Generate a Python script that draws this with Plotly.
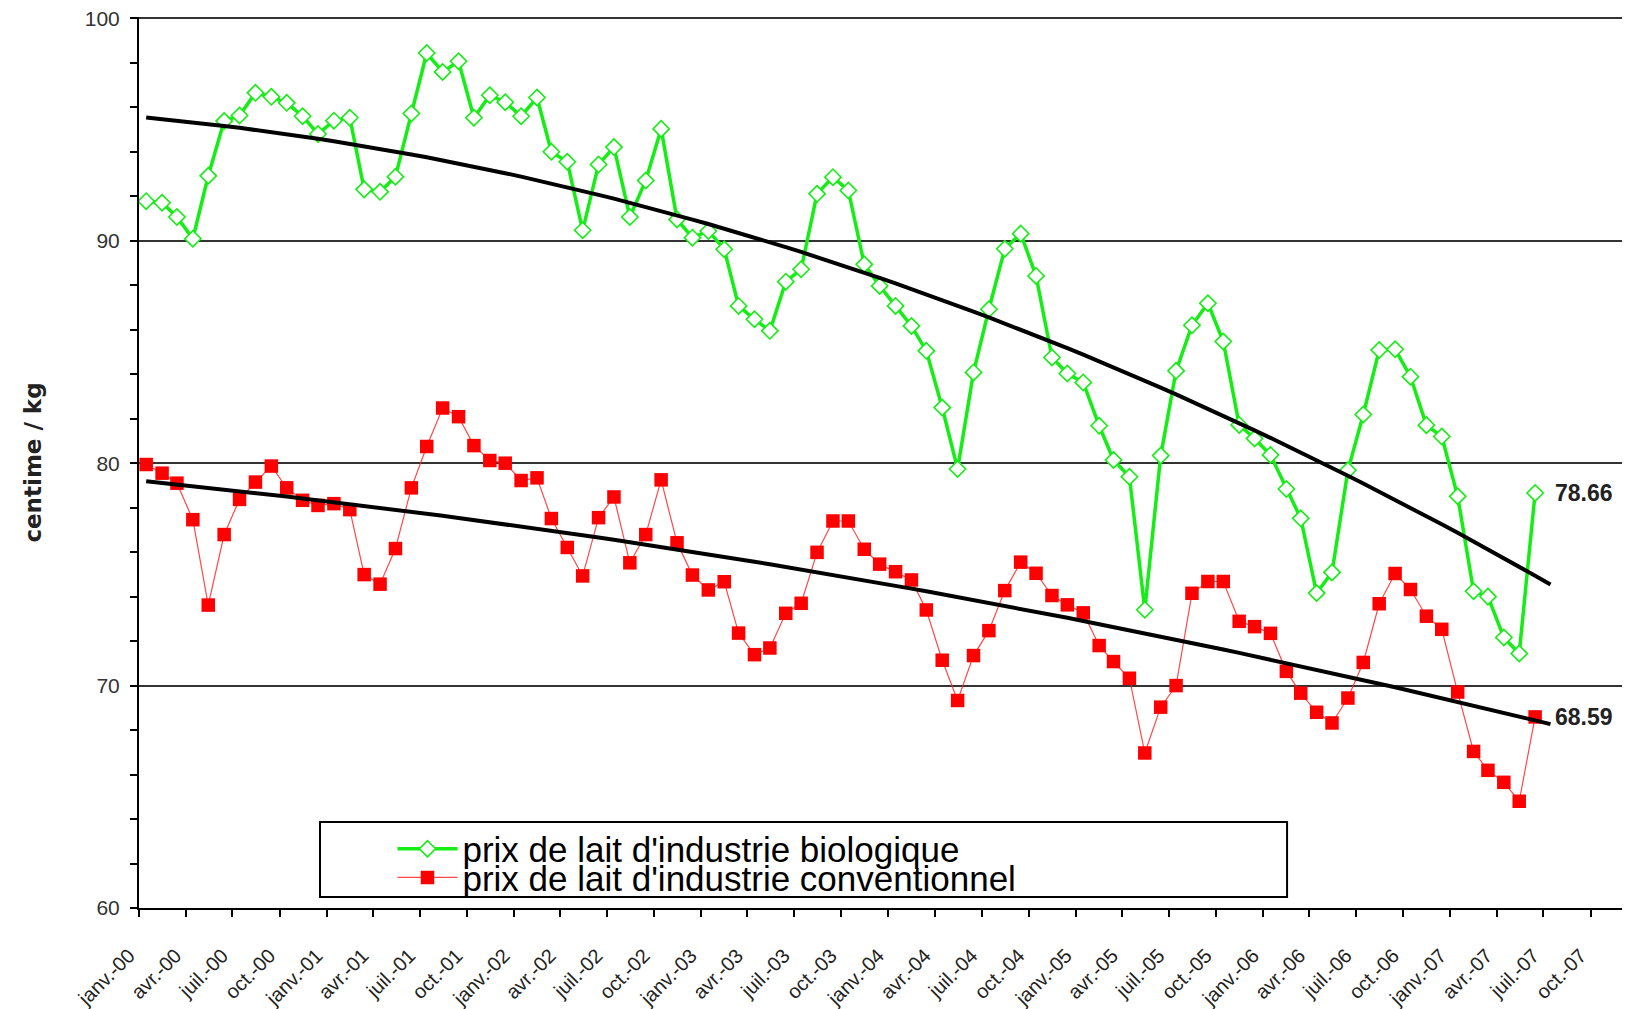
import plotly.graph_objects as go
import numpy as np
import pandas as pd

# ---------------- data ----------------
years = [2000, 2001, 2002, 2003, 2004, 2005, 2006, 2007]
months = [f"{y}-{m:02d}-15" for y in years for m in range(1, 13)][:90]  # janv.-00 .. juin-07

bio = [91.78, 91.71, 91.07, 90.09, 92.92, 95.38, 95.63, 96.65, 96.47, 96.20, 95.60, 94.80,
       95.40, 95.53, 92.31, 92.20, 92.88, 95.72, 98.44, 97.59, 98.07, 95.53, 96.54, 96.23,
       95.60, 96.44, 94.00, 93.55, 90.47, 93.43, 94.21, 91.07, 92.71, 95.03, 90.96, 90.14,
       90.44, 89.62, 87.07, 86.47, 85.95, 88.16, 88.72, 92.11, 92.86, 92.26, 88.94, 87.97,
       87.07, 86.17, 85.05, 82.50, 79.74, 84.08, 86.92, 89.64, 90.32, 88.42, 84.75, 84.03,
       83.63, 81.68, 80.14, 79.39, 73.41, 80.34, 84.15, 86.20, 87.19, 85.47, 81.72, 81.11,
       80.37, 78.84, 77.52, 74.16, 75.09, 79.68, 82.19, 85.09, 85.12, 83.89, 81.71, 81.20,
       78.51, 74.24, 74.00, 72.16, 71.44, 78.66]

conv = [79.94, 79.55, 79.10, 77.46, 73.62, 76.79, 78.37, 79.15, 79.87, 78.89, 78.33, 78.10,
        78.18, 77.91, 74.99, 74.56, 76.16, 78.89, 80.75, 82.48, 82.09, 80.79, 80.12, 80.00,
        79.22, 79.34, 77.51, 76.21, 74.93, 77.55, 78.48, 75.52, 76.79, 79.25, 76.42, 74.97,
        74.30, 74.67, 72.36, 71.39, 71.69, 73.25, 73.70, 75.99, 77.40, 77.40, 76.13, 75.46,
        75.12, 74.75, 73.40, 71.14, 69.33, 71.35, 72.47, 74.27, 75.55, 75.05, 74.05, 73.63,
        73.27, 71.80, 71.08, 70.33, 66.97, 69.03, 70.00, 74.15, 74.68, 74.68, 72.89, 72.65,
        72.35, 70.64, 69.66, 68.80, 68.32, 69.44, 71.04, 73.68, 75.04, 74.32, 73.12, 72.53,
        69.71, 67.04, 66.19, 65.65, 64.80, 68.59]

tick_dates = [f"{y}-{m:02d}-01" for y in years for m in (1, 4, 7, 10)]
tick_labels = [f"{mn}-{str(y)[2:]}" for y in years for mn in ("janv.", "avr.", "juil.", "oct.")]

name_bio = "prix de lait d'industrie biologique"
name_conv = "prix de lait d'industrie conventionnel"

# ---------------- polynomial (order 2) trend lines ----------------
t0 = pd.Timestamp("2000-01-01")
dates = pd.to_datetime(months)
trend_dates = list(dates) + [pd.Timestamp("2007-07-15")]
xd = np.array([(d - t0).days for d in dates], dtype=float)
xt = np.array([(d - t0).days for d in trend_dates], dtype=float)
trend_bio = np.polyval(np.polyfit(xd, bio, 2), xt)
trend_conv = np.polyval(np.polyfit(xd, conv, 2), xt)

GREEN = "#14ee14"
RED = "#ff0000"
TXT = "#222222"

fig = go.Figure()
fig.add_trace(go.Scatter(
    x=months, y=bio, name=name_bio, mode="lines+markers",
    line=dict(color=GREEN, width=3.5),
    marker=dict(symbol="diamond", size=12.5, color="white", line=dict(color=GREEN, width=1.6)),
    legend="legend"))
fig.add_trace(go.Scatter(
    x=months, y=conv, name=name_conv, mode="lines+markers",
    line=dict(color="rgba(255,40,40,0.85)", width=1.2),
    marker=dict(symbol="square", size=13.5, color=RED, line=dict(width=0)),
    legend="legend2"))
fig.add_trace(go.Scatter(x=trend_dates, y=trend_bio, mode="lines", showlegend=False,
                         line=dict(color="black", width=4)))
fig.add_trace(go.Scatter(x=trend_dates, y=trend_conv, mode="lines", showlegend=False,
                         line=dict(color="black", width=4)))

# value labels on last points
for series in (bio, conv):
    fig.add_annotation(x=months[-1], y=series[-1], text=f"{series[-1]:.2f}", showarrow=False,
                       xanchor="left", yanchor="middle", xshift=18,
                       font=dict(family="Liberation Sans, Arial, sans-serif", size=23,
                                 color=TXT, weight="bold"))

# legend frame
fig.add_shape(type="rect", xref="paper", yref="paper",
              x0=0.1214, x1=0.770, y0=0.0123, y1=0.0965,
              line=dict(color="black", width=2), fillcolor="rgba(0,0,0,0)", layer="above")

leg_common = dict(bgcolor="rgba(0,0,0,0)", borderwidth=0, xanchor="left", yanchor="middle",
                  itemwidth=60, font=dict(family="Liberation Sans, Arial, sans-serif",
                                          size=35, color="black"))
fig.update_layout(
    width=1622, height=1001,
    margin=dict(l=131, r=0, t=9, b=101, autoexpand=False),
    paper_bgcolor="white", plot_bgcolor="white",
    showlegend=True,
    legend=dict(x=0.170, y=0.0662, **leg_common),
    legend2=dict(x=0.170, y=0.0340, **leg_common),
    font=dict(family="Liberation Sans, Arial, sans-serif", color=TXT),
)

fig.update_xaxes(
    type="date", range=["2000-01-01", "2007-12-17"], automargin=False,
    tickmode="array", tickvals=tick_dates, ticktext=tick_labels, tickangle=-45,
    ticks="outside", ticklen=7, tickwidth=1.5, tickcolor="black",
    showline=True, linecolor="black", linewidth=2, showgrid=False, zeroline=False,
    tickfont=dict(size=20, color=TXT), ticklabelstandoff=19, ticklabelshift=-10)

fig.update_yaxes(
    range=[60, 100.06], dtick=10, tick0=60, automargin=False,
    showgrid=True, gridcolor="#333333", gridwidth=1.5,
    showline=True, linecolor="black", linewidth=2, zeroline=False,
    ticks="outside", ticklen=7, tickwidth=1.5, tickcolor="black",
    minor=dict(dtick=2, ticks="outside", ticklen=7, tickwidth=1.5, tickcolor="black", showgrid=False),
    tickfont=dict(size=21, color="#333333"), ticklabelstandoff=6, ticklabeloverflow="allow",
    title=dict(text="centime / kg", standoff=37,
               font=dict(family="DejaVu Sans, Verdana, sans-serif", size=23, color=TXT, weight="bold")))

fig.write_html("out.html")
